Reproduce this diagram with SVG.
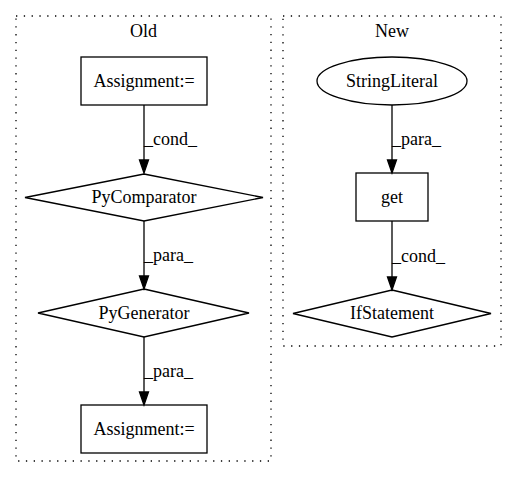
<svg xmlns="http://www.w3.org/2000/svg" width="517" height="480" viewBox="0 0 517 480">
<style>
.cl{fill:none;stroke:#000;stroke-width:1.3;stroke-dasharray:1.3,6.5}
.nd{fill:none;stroke:#000;stroke-width:1.3}
.e{fill:none;stroke:#000;stroke-width:1.3}
.ah{fill:#000;stroke:#000;stroke-width:1.3}
text{font-family:"Liberation Serif","Times New Roman",serif;font-size:18px;fill:#000}
.m{text-anchor:middle}
</style>
<rect width="517" height="480" fill="#fff"/>
<g id="cluster_old">
<rect class="cl" x="16" y="16" width="255" height="445"/>
<text class="m" x="143.5" y="37">Old</text>
</g>
<g id="cluster_new">
<rect class="cl" x="283" y="16" width="218" height="330"/>
<text class="m" x="392" y="37">New</text>
</g>
<g id="connectors">
<path class="e" d="M144,105 L144,160"/><polygon class="ah" points="139.5,160 144,173 148.5,160"/>
<text x="144" y="145">_cond_</text>
<path class="e" d="M144,221 L144,276"/><polygon class="ah" points="139.5,276 144,289 148.5,276"/>
<text x="144" y="261">_para_</text>
<path class="e" d="M144,337 L144,392"/><polygon class="ah" points="139.5,392 144,405 148.5,392"/>
<text x="144" y="377">_para_</text>
<path class="e" d="M392,105 L392,160"/><polygon class="ah" points="387.5,160 392,173 396.5,160"/>
<text x="392" y="145">_para_</text>
<path class="e" d="M392,221 L392,277"/><polygon class="ah" points="387.5,277 392,290 396.5,277"/>
<text x="392" y="262">_cond_</text>
</g>
<g id="n_assign1">
<rect class="nd" x="81" y="57" width="126" height="48"/>
<text class="m" x="144" y="87">Assignment:=</text>
</g>
<g id="n_pycomparator">
<polygon class="nd" points="144,174 263,197.5 144,221 25,197.5"/>
<text class="m" x="144" y="203">PyComparator</text>
</g>
<g id="n_pygenerator">
<polygon class="nd" points="144,289 249,313 144,337 38,313"/>
<text class="m" x="144" y="319">PyGenerator</text>
</g>
<g id="n_assign2">
<rect class="nd" x="81" y="405" width="126" height="48"/>
<text class="m" x="144" y="435">Assignment:=</text>
</g>
<g id="n_stringliteral">
<ellipse class="nd" cx="392" cy="81" rx="75" ry="24"/>
<text class="m" x="392" y="87">StringLiteral</text>
</g>
<g id="n_get">
<rect class="nd" x="356" y="173" width="72" height="48"/>
<text class="m" x="392" y="203">get</text>
</g>
<g id="n_ifstatement">
<polygon class="nd" points="392,290 491,313.5 392,337 293,313.5"/>
<text class="m" x="392" y="319">IfStatement</text>
</g>
</svg>
